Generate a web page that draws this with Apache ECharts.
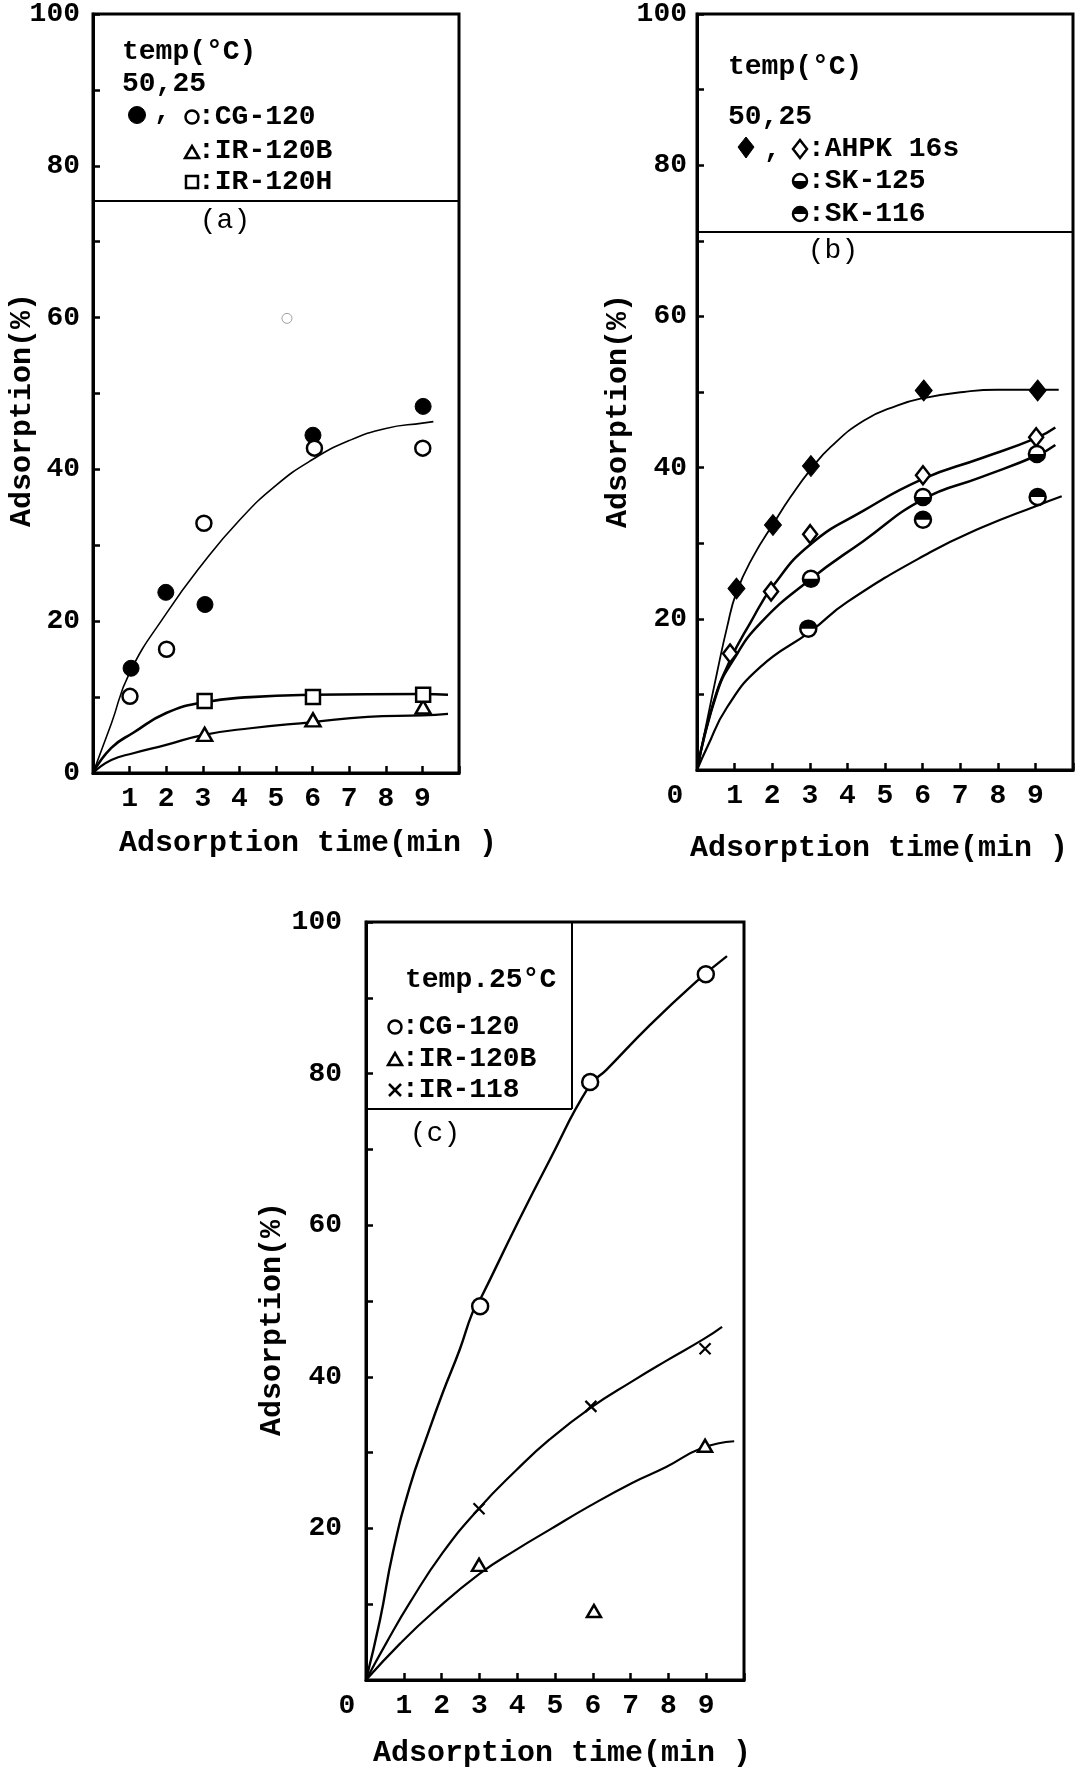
<!DOCTYPE html>
<html><head><meta charset="utf-8">
<script src="https://cdn.jsdelivr.net/npm/echarts@6/dist/echarts.min.js"></script>
<style>html,body{margin:0;padding:0;background:#fff}#c{width:1085px;height:1772px}</style>
</head><body><div id="c"></div><script>
const FONT = '"Liberation Mono", "Courier New", monospace';

// ---------- Panel (a) ----------
const A_T_CG50 = [1.04, 1.99, 3.06, 6.01, 9.02];
const A_CG120_50C = [13.8, 23.8, 22.2, 44.5, 48.3];
const A_T_CG25 = [1.01, 2.01, 3.03, 6.05, 9.01];
const A_CG120_25C = [10.1, 16.3, 32.9, 42.8, 42.8];
const A_T_IR = [3.05, 6.01, 9.02];
const A_IR120B = [5.1, 7.0, 8.7];
const A_IR120H = [9.5, 10.0, 10.3];
const A_STRAY_T = [5.3];
const A_STRAY_V = [59.9];
const A_FIT_CG_T = [0, 0.5, 1, 2, 3, 4, 5, 6, 7, 8, 9, 9.3];
const A_FIT_CG_V = [0, 6.5, 13.2, 21, 27.6, 33.3, 37.9, 41.3, 43.8, 45.4, 46.1, 46.3];
const A_FIT_H_T = [0, 0.5, 1.1, 2, 3, 4.3, 6, 9, 9.7];
const A_FIT_H_V = [0, 3.3, 5.3, 7.9, 9.3, 10, 10.3, 10.4, 10.3];
const A_FIT_B_T = [0, 0.5, 1.1, 2, 3, 4.3, 6, 7.5, 9, 9.7];
const A_FIT_B_V = [0, 1.7, 2.6, 3.7, 5.0, 5.9, 6.7, 7.4, 7.6, 7.8];

// ---------- Panel (b) ----------
const B_T_50 = [1.05, 2.02, 3.03, 6.03, 9.06];
const B_AHPK_50C = [24.0, 32.4, 40.2, 50.2, 50.2];
const B_T_25 = [0.88, 1.97, 3.01, 6.01, 9.02];
const B_AHPK_25C = [15.4, 23.6, 31.2, 39.0, 44.0];
const B_T_SK125 = [3.03, 6.01, 9.04];
const B_SK125 = [25.3, 36.1, 41.8];
const B_T_SK116 = [2.96, 6.01, 9.06];
const B_SK116 = [18.7, 33.1, 36.1];
const B_FIT_50_T = [0, 0.27, 0.53, 0.8, 1.05, 1.5, 2.02, 2.5, 3.03, 3.55, 4.43, 5.32, 6.03, 7.09, 7.98, 9.06, 9.62];
const B_FIT_50_V = [0, 6.6, 12.8, 18.9, 23.5, 28.3, 32.5, 36.2, 39.8, 42.7, 46.2, 48.2, 49.2, 50.0, 50.3, 50.3, 50.3];
const B_FIT_25_T = [0, 0.43, 0.88, 1.41, 2.03, 3.03, 4.43, 6.01, 7.54, 9.02, 9.53];
const B_FIT_25_V = [0, 8.8, 14.5, 19.4, 24.4, 29.9, 34.3, 38.5, 41.2, 43.9, 45.3];
const B_FIT_125_T = [0, 0.53, 0.96, 1.68, 3.01, 4.43, 6.01, 7.54, 9.04, 9.53];
const B_FIT_125_V = [0, 10.2, 14.5, 19.4, 25.2, 30.3, 35.8, 38.7, 41.6, 43.0];
const B_FIT_116_T = [0, 0.27, 0.8, 1.68, 3.04, 3.99, 6.2, 7.54, 9.06, 9.7];
const B_FIT_116_V = [0, 3.0, 8.3, 13.6, 18.4, 22.2, 28.8, 32.0, 35.0, 36.2];

// ---------- Panel (c) ----------
const C_T_CG = [3.02, 5.93, 8.99];
const C_CG120 = [49.3, 78.9, 93.1];
const C_T_118 = [2.99, 5.95, 8.97];
const C_IR118 = [22.6, 36.1, 43.7];
const C_T_120B = [2.99, 6.03, 8.97];
const C_IR120B = [15.2, 9.1, 30.9];
const C_FIT_CG_T = [0, 0.37, 0.71, 1.16, 1.61, 2.03, 2.48, 2.82, 3.0, 3.98, 4.85, 5.9, 6.36, 7.49, 8.73, 9.55];
const C_FIT_CG_V = [0, 7.9, 16.8, 25.5, 32.1, 37.9, 43.6, 48.5, 50.0, 60.0, 68.5, 78.3, 80.5, 86.3, 92.1, 95.5];
const C_FIT_118_T = [0, 0.55, 1.16, 2.03, 3.0, 3.98, 4.85, 5.94, 7.04, 7.94, 8.94, 9.42];
const C_FIT_118_V = [0, 5.0, 10.2, 16.8, 22.7, 27.7, 31.7, 35.9, 39.4, 42.1, 45.0, 46.6];
const C_FIT_120B_T = [0, 0.9, 1.77, 3.0, 3.98, 4.85, 5.9, 7.04, 7.94, 8.89, 9.74];
const C_FIT_120B_V = [0, 4.8, 8.9, 14.0, 17.2, 19.8, 22.9, 26.0, 28.1, 30.6, 31.5];

// tick labels
const Y_LABELS = [0, 20, 40, 60, 80, 100];
const X_LABELS = [0, 1, 2, 3, 4, 5, 6, 7, 8, 9];

const zip = (t, v) => t.map((x, i) => [x, v[i]]);
const BLACK = '#000';

// half-disc symbol outlines (unit shape, not data)
function halfDiscPath(top) {
  let d = top ? 'path://M0,1' : 'path://M0,0';
  for (let k = 0; k <= 24; k++) {
    const a = Math.PI * k / 24;
    const x = 1 - Math.cos(a);
    const y = top ? 1 - Math.sin(a) : Math.sin(a);
    d += 'L' + x.toFixed(4) + ',' + y.toFixed(4);
  }
  return d + 'Z';
}
const HALF_BOTTOM = halfDiscPath(false);
const HALF_TOP = halfDiscPath(true);
const XMARK = 'path://M0,0L2,2M2,0L0,2';

function fit(gi, t, v, w) {
  return { type: 'line', xAxisIndex: gi, yAxisIndex: gi, data: zip(t, v), smooth: 0.5,
    symbol: 'none', silent: true, z: 2, lineStyle: { color: BLACK, width: w } };
}
function pts(gi, t, v, symbol, size, fill, bw, extra) {
  return Object.assign({ type: 'scatter', xAxisIndex: gi, yAxisIndex: gi, data: zip(t, v), symbol, symbolSize: size,
    silent: true, z: 4, itemStyle: { color: fill, borderColor: BLACK, borderWidth: bw, opacity: 1 } }, extra || {});
}
function xAxis(gi, zeroPad) {
  return { type: 'value', gridIndex: gi, min: 0, max: 10, interval: 1,
    axisLine: { show: true, onZero: false, lineStyle: { color: BLACK, width: 3 } },
    axisTick: { show: true, inside: true, length: 7, lineStyle: { color: BLACK, width: 2.5 } },
    splitLine: { show: false },
    axisLabel: { color: BLACK, fontFamily: FONT, fontWeight: 'bold', fontSize: 28, margin: 12,
      showMinLabel: true, showMaxLabel: true,
      formatter: v => {
        if (X_LABELS.indexOf(v) < 0) return '';
        if (v === 0) return zeroPad ? '{z|0}' : '';
        return String(v);
      },
      rich: { z: { fontFamily: FONT, fontWeight: 'bold', fontSize: 28, color: BLACK, padding: [0, zeroPad || 0, 0, 0] } } } };
}
function yAxis(gi, showZero, margin) {
  return { type: 'value', gridIndex: gi, min: 0, max: 100, interval: 10,
    axisLine: { show: true, onZero: false, lineStyle: { color: BLACK, width: 3 } },
    axisTick: { show: true, inside: true, length: 7, lineStyle: { color: BLACK, width: 2.5 } },
    splitLine: { show: false },
    axisLabel: { color: BLACK, fontFamily: FONT, fontWeight: 'bold', fontSize: 28, margin,
      showMinLabel: true, showMaxLabel: true,
      formatter: v => (Y_LABELS.indexOf(v) >= 0 && (v > 0 || showZero)) ? String(v) : '' } };
}

function txt(x, y, s, size, align, rot, weight) {
  return { type: 'text', x, y, rotation: rot || 0, z: 100, silent: true,
    style: { text: s, font: (weight || 'bold') + ' ' + size + 'px ' + FONT, fill: BLACK,
      textAlign: align || 'left', textVerticalAlign: 'middle' } };
}
function line(x1, y1, x2, y2, w) {
  return { type: 'line', z: 100, silent: true, shape: { x1, y1, x2, y2 }, style: { stroke: BLACK, lineWidth: w || 2 } };
}
function circ(cx, cy, r, fill, w) {
  return { type: 'circle', z: 100, silent: true, shape: { cx, cy, r }, style: { fill, stroke: BLACK, lineWidth: w } };
}
function poly(points, fill, w) {
  return { type: 'polygon', z: 100, silent: true, shape: { points }, style: { fill, stroke: BLACK, lineWidth: w } };
}
function halfCirc(cx, cy, r, top) {
  return { type: 'sector', z: 101, silent: true,
    shape: { cx, cy, r0: 0, r, startAngle: top ? Math.PI : 0, endAngle: top ? 2 * Math.PI : Math.PI, clockwise: true },
    style: { fill: BLACK } };
}

const graphic = [
  // panel (a) legend
  txt(122, 52, 'temp(°C)', 28),
  txt(122, 84, '50,25', 28),
  circ(137, 115, 8.5, BLACK, 1),
  txt(154, 112, ',', 28),
  circ(192, 117, 6.5, '#fff', 2.5),
  txt(198, 117, ':CG-120', 28),
  poly([[185, 158], [199, 158], [192, 146]], '#fff', 2.5),
  txt(198, 151, ':IR-120B', 28),
  { type: 'rect', z: 100, silent: true, shape: { x: 186, y: 176, width: 12, height: 12 }, style: { fill: '#fff', stroke: BLACK, lineWidth: 2.5 } },
  txt(198, 182, ':IR-120H', 28),
  line(95, 201, 459, 201, 2),
  txt(225, 221, '(a)', 28, 'center', 0, 'normal'),
  // panel (b) legend
  txt(728, 67, 'temp(°C)', 28),
  txt(728, 117, '50,25', 28),
  poly([[746, 137], [754, 147], [746, 158], [738, 147]], BLACK, 1),
  txt(764, 150, ',', 28),
  poly([[800, 140], [807, 149], [800, 158], [793, 149]], '#fff', 2.5),
  txt(808, 149, ':AHPK 16s', 28),
  circ(800, 181, 7, '#fff', 2.5), halfCirc(800, 181, 7, false),
  txt(808, 181, ':SK-125', 28),
  circ(800, 214, 7, '#fff', 2.5), halfCirc(800, 214, 7, true),
  txt(808, 214, ':SK-116', 28),
  line(697, 232, 1073, 232, 2),
  txt(833, 251, '(b)', 28, 'center', 0, 'normal'),
  // panel (c) legend
  txt(405, 980, 'temp.25°C', 28),
  circ(395, 1027, 6.5, '#fff', 2.5),
  txt(402, 1027, ':CG-120', 28),
  poly([[388, 1065], [402, 1065], [395, 1053]], '#fff', 2.5),
  txt(402, 1059, ':IR-120B', 28),
  line(389, 1084, 401, 1096, 2.5), line(401, 1084, 389, 1096, 2.5),
  txt(402, 1090, ':IR-118', 28),
  line(572, 922, 572, 1109, 2),
  line(366, 1109, 572, 1109, 2),
  txt(435, 1134, '(c)', 28, 'center', 0, 'normal'),
  // axis titles
  txt(308, 843, 'Adsorption time(min )', 30, 'center'),
  txt(879, 848, 'Adsorption time(min )', 30, 'center'),
  txt(562, 1753, 'Adsorption time(min )', 30, 'center'),
  txt(22, 410, 'Adsorption(%)', 30, 'center', Math.PI / 2),
  txt(618, 411, 'Adsorption(%)', 30, 'center', Math.PI / 2),
  txt(272, 1319, 'Adsorption(%)', 30, 'center', Math.PI / 2)
];

const gridStyle = { show: true, borderColor: BLACK, borderWidth: 3, backgroundColor: 'transparent', containLabel: false };

const option = {
  animation: false,
  backgroundColor: '#fff',
  grid: [
    Object.assign({ left: 93, top: 13, width: 366, height: 760 }, gridStyle),
    Object.assign({ left: 697, top: 12, width: 376, height: 758 }, gridStyle),
    Object.assign({ left: 366, top: 922, width: 378, height: 758 }, gridStyle)
  ],
  xAxis: [xAxis(0, 0), xAxis(1, 44), xAxis(2, 38)],
  yAxis: [yAxis(0, true, 13), yAxis(1, false, 10), yAxis(2, false, 24)],
  graphic,
  series: [
    // (a)
    fit(0, A_FIT_CG_T, A_FIT_CG_V, 1.6),
    fit(0, A_FIT_H_T, A_FIT_H_V, 2.6),
    fit(0, A_FIT_B_T, A_FIT_B_V, 2.2),
    pts(0, A_T_CG50, A_CG120_50C, 'circle', 16, BLACK, 1),
    pts(0, A_T_CG25, A_CG120_25C, 'circle', 15, '#fff', 2.5),
    pts(0, A_T_IR, A_IR120B, 'triangle', [15, 13], '#fff', 2.5),
    pts(0, A_T_IR, A_IR120H, 'rect', 14, '#fff', 2.5),
    pts(0, A_STRAY_T, A_STRAY_V, 'circle', 10, '#fff', 1, { itemStyle: { color: '#fff', borderColor: '#888', borderWidth: 1 } }),
    // (b)
    fit(1, B_FIT_50_T, B_FIT_50_V, 1.8),
    fit(1, B_FIT_25_T, B_FIT_25_V, 2.5),
    fit(1, B_FIT_125_T, B_FIT_125_V, 2.5),
    fit(1, B_FIT_116_T, B_FIT_116_V, 2.2),
    pts(1, B_T_50, B_AHPK_50C, 'diamond', [17, 21], BLACK, 1),
    pts(1, B_T_25, B_AHPK_25C, 'diamond', [14, 18], '#fff', 2.5),
    pts(1, B_T_SK125, B_SK125, 'circle', 16, '#fff', 2.5),
    pts(1, B_T_SK125, B_SK125, HALF_BOTTOM, [16, 8], BLACK, 0, { symbolOffset: [0, 4], z: 5 }),
    pts(1, B_T_SK116, B_SK116, 'circle', 16, '#fff', 2.5),
    pts(1, B_T_SK116, B_SK116, HALF_TOP, [16, 8], BLACK, 0, { symbolOffset: [0, -4], z: 5 }),
    // (c)
    fit(2, C_FIT_CG_T, C_FIT_CG_V, 2.4),
    fit(2, C_FIT_118_T, C_FIT_118_V, 2.2),
    fit(2, C_FIT_120B_T, C_FIT_120B_V, 2.2),
    pts(2, C_T_CG, C_CG120, 'circle', 16, '#fff', 2.5),
    pts(2, C_T_118, C_IR118, XMARK, 11, 'transparent', 2.2),
    pts(2, C_T_120B, C_IR120B, 'triangle', [14, 12], '#fff', 2.5)
  ]
};

const chart = echarts.init(document.getElementById('c'), null, { renderer: 'canvas', width: 1085, height: 1772 });
chart.setOption(option);
</script></body></html>
